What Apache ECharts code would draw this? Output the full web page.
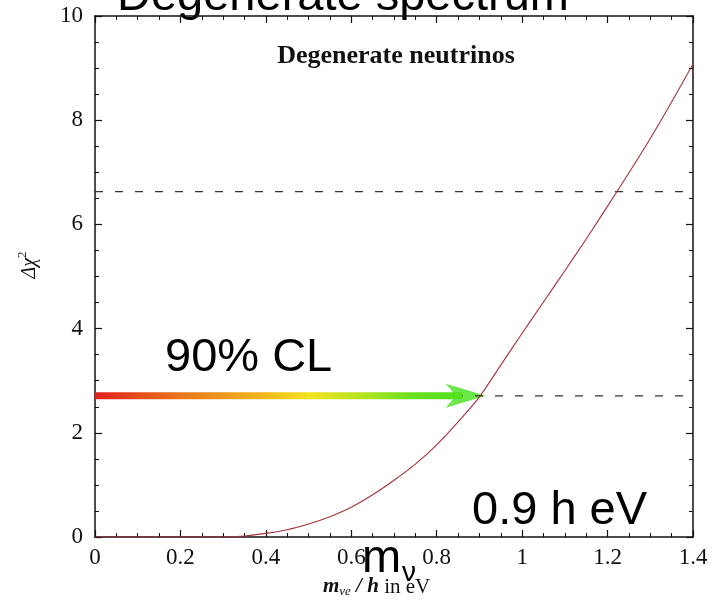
<!DOCTYPE html>
<html><head><meta charset="utf-8">
<script src="https://cdn.jsdelivr.net/npm/echarts@6/dist/echarts.min.js"></script>
<style>html,body{margin:0;padding:0;background:#fff}#c{width:713px;height:603px}</style>
</head><body><div id="c"></div>
<script>
// ---- data ----
const mass = [0,0.05,0.1,0.15,0.2,0.25,0.3,0.35,0.4,0.45,0.5,0.55,0.6,0.65,0.7,0.75,0.8,0.85,0.9,0.95,1.0,1.05,1.1,1.15,1.2,1.25,1.3,1.35,1.4];
const deltaChi2 = [0,0,0,0,0,0,0,0.02,0.07,0.14,0.25,0.39,0.57,0.81,1.09,1.40,1.77,2.21,2.69,3.30,3.91,4.51,5.11,5.72,6.35,6.99,7.65,8.35,9.08];
const clLevels = [2.71, 6.63];
const arrowX = [0, 0.86];      // gradient shaft
const arrowHeadX = 0.915;      // arrow head anchor
const xTickLabels = ['0','0.2','0.4','0.6','0.8','1','1.2','1.4'];
const yTickLabels = ['0','2','4','6','8','10'];
const xRange = [0, 1.4];
const yRange = [0, 10];

const serif = '"Liberation Serif","DejaVu Serif",serif';
const sans = '"Liberation Sans",Arial,sans-serif';

const chart = echarts.init(document.getElementById('c'), null, {renderer:'canvas'});

function axisCommon(showLabel, labels, step, pos){
  return {
    type:'value', position:pos, min:0, max:0, interval:step,
    axisLine:{show:true, onZero:false, lineStyle:{color:'#111', width:1.5}},
    axisTick:{show:true, inside:true, length:7, lineStyle:{color:'#111', width:1.2}},
    minorTick:{show:true, splitNumber:4, length:4, lineStyle:{color:'#111', width:1}},
    splitLine:{show:false},
    axisLabel:{show:showLabel, color:'#111', fontFamily:serif, fontSize:23,
      formatter:(v)=>labels[Math.round(v/step)]}
  };
}
const xb = axisCommon(true, xTickLabels, 0.2, 'bottom'); xb.min = xRange[0]; xb.max = xRange[1]; xb.axisLabel.margin = 9;
const xt = axisCommon(false, xTickLabels, 0.2, 'top'); xt.min = xRange[0]; xt.max = xRange[1];
const yl = axisCommon(true, yTickLabels, 2, 'left'); yl.min = yRange[0]; yl.max = yRange[1]; yl.axisLabel.margin = 12;
const yr = axisCommon(false, yTickLabels, 2, 'right'); yr.min = yRange[0]; yr.max = yRange[1];

const curve = mass.map((m,i)=>[m, deltaChi2[i]]);

const option = {
  animation:false,
  backgroundColor:'#fff',
  grid:{left:95, right:20, top:16, bottom:66, containLabel:false},
  xAxis:[xb, xt],
  yAxis:[yl, yr],
  series:[
    {type:'line', xAxisIndex:0, yAxisIndex:0, symbol:'none', silent:true,
     data:[[xRange[0], clLevels[1]],[xRange[1], clLevels[1]]],
     lineStyle:{color:'#333', width:1.3, type:[8,12]}},
    {type:'line', xAxisIndex:0, yAxisIndex:0, symbol:'none', silent:true,
     data:[[xRange[0], clLevels[0]],[xRange[1], clLevels[0]]],
     lineStyle:{color:'#333', width:1.3, type:[8,12]}},
    {type:'line', xAxisIndex:0, yAxisIndex:0, symbol:'none', silent:true,
     data:[[arrowX[0], clLevels[0]],[arrowX[1], clLevels[0]]],
     lineStyle:{width:7, cap:'butt',
       color:new echarts.graphic.LinearGradient(0,0,1,0,[
         {offset:0, color:'#e01e1e'},
         {offset:0.25, color:'#ec7a1c'},
         {offset:0.45, color:'#f0b41c'},
         {offset:0.58, color:'#f2e41e'},
         {offset:0.72, color:'#b6e41e'},
         {offset:0.85, color:'#6ee01e'},
         {offset:1, color:'#4ee01e'}])}},
    {type:'scatter', xAxisIndex:0, yAxisIndex:0, silent:true,
     data:[[arrowHeadX, clLevels[0]]], symbol:'arrow', symbolRotate:-90, symbolSize:[18,40],
     itemStyle:{color:'#48e01c'}},
    {type:'line', xAxisIndex:0, yAxisIndex:0, symbol:'none', silent:true, smooth:0.3,
     data:curve, lineStyle:{color:'#a8303c', width:1.1}, z:5}
  ],
  graphic:[
    {type:'text', x:117, y:-3, style:{text:'Degenerate spectrum', font:'47px '+sans, fill:'#000', textAlign:'left', textVerticalAlign:'middle'}},
    {type:'text', x:396, y:56, style:{text:'Degenerate neutrinos', font:'bold 26px '+serif, fill:'#111', textAlign:'center', textVerticalAlign:'middle'}},
    {type:'text', x:165, y:358, style:{text:'90% CL', font:'47px '+sans, fill:'#000', textAlign:'left', textVerticalAlign:'middle'}, z:10},
    {type:'text', x:472, y:511, style:{text:'0.9 h eV', font:'47px '+sans, fill:'#000', textAlign:'left', textVerticalAlign:'middle'}, z:10},
    {type:'text', x:28, y:265, rotation:Math.PI/2,
     style:{text:'{a|Δχ}{s|2}', textAlign:'center', textVerticalAlign:'middle',
       rich:{a:{fontFamily:serif, fontSize:20, fontStyle:'italic', fill:'#111', verticalAlign:'bottom'},
             s:{fontFamily:serif, fontSize:13, fill:'#111', verticalAlign:'top', padding:[0,0,10,0]}}}},
    {type:'text', x:323, y:587,
     style:{text:'{i|m}{s|νe}{i| / h}{n| in eV}', textAlign:'left', textVerticalAlign:'middle',
       rich:{i:{fontFamily:serif, fontSize:21, fontStyle:'italic', fontWeight:'bold', fill:'#111'},
             s:{fontFamily:serif, fontSize:13, fontStyle:'italic', fill:'#111', padding:[10,0,0,0]},
             n:{fontFamily:serif, fontSize:21, fill:'#111'}}}},
    {type:'text', x:362, y:559, style:{text:'m', font:'47px '+sans, fill:'#000', textAlign:'left', textVerticalAlign:'middle'}, z:10},
    {type:'text', x:402, y:573, style:{text:'ν', font:'28px '+sans, fill:'#000', textAlign:'left', textVerticalAlign:'middle'}, z:10}
  ]
};
chart.setOption(option);
</script></body></html>
